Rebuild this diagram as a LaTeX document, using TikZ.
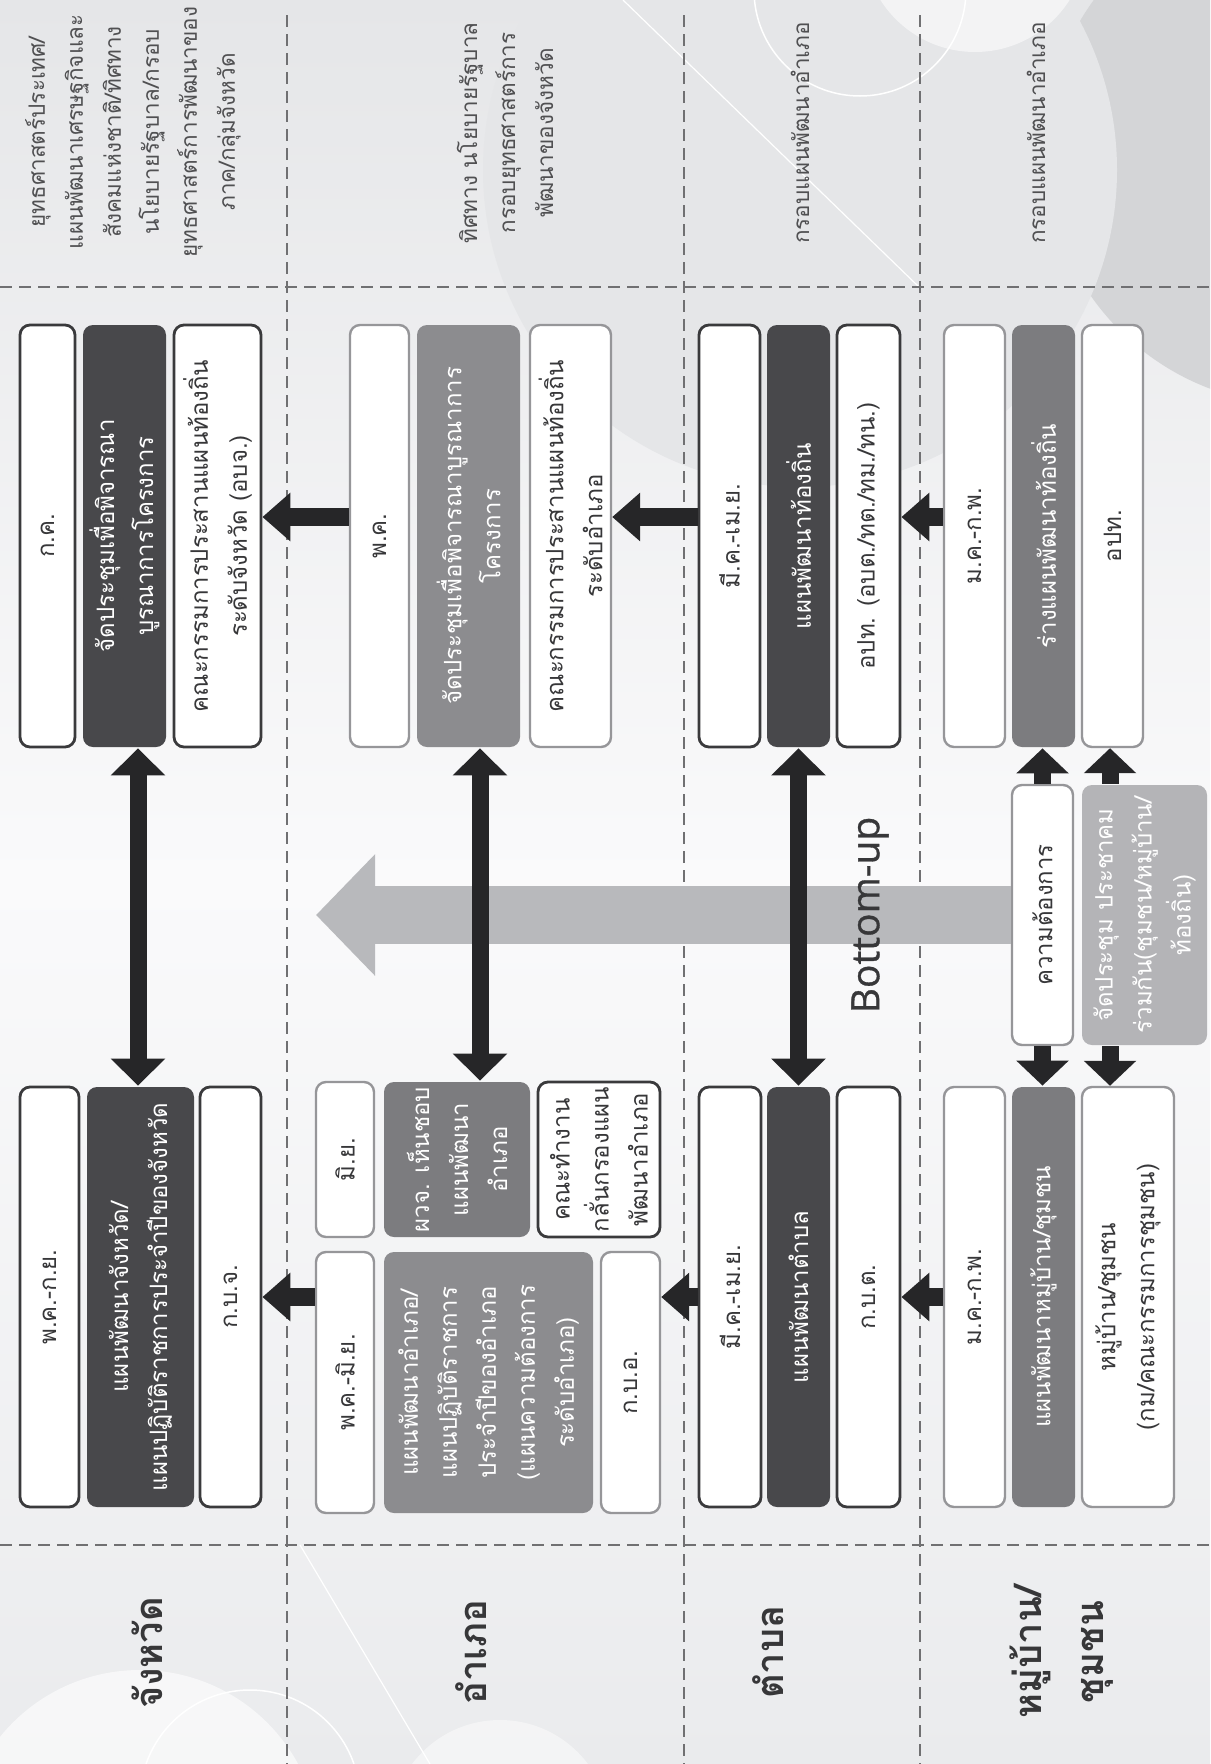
\documentclass[tikz,border=0pt]{standalone}
\usepackage{fontspec}
\usepackage{tikz}
\usetikzlibrary{arrows.meta,calc}
\newfontfamily\thai[Script=Thai]{Loma}
\newfontfamily\latinsans[FakeBold=0.8]{Open Sans}

\definecolor{bgtop}{RGB}{229,230,232}
\definecolor{bgmid}{RGB}{250,250,251}
\definecolor{bgbot}{RGB}{234,235,237}
\definecolor{bgdeep}{RGB}{212,213,215}
\definecolor{darkfill}{RGB}{72,72,75}
\definecolor{midfill}{RGB}{140,140,143}
\definecolor{deepfill}{RGB}{124,124,127}
\definecolor{softfill}{RGB}{180,180,183}
\definecolor{darkline}{RGB}{58,58,60}
\definecolor{softline}{RGB}{150,150,153}
\definecolor{arrowblack}{RGB}{38,38,40}
\definecolor{bigarrowgray}{RGB}{184,185,188}
\definecolor{sepgray}{RGB}{112,112,114}
\definecolor{textgray}{RGB}{55,55,57}
\definecolor{stripgray}{RGB}{80,80,82}

\begin{document}
\begin{tikzpicture}[x=1pt,y=-1pt,
    every node/.style={font=\thai\fontsize{24}{39}\selectfont,text=textgray},
    box/.style={rotate=90,rounded corners=10pt,align=center,inner sep=3pt,line width=2.8pt},
    toprow/.style={minimum width=422pt},
    botrow/.style={minimum width=420pt},
    whitebox/.style={box,draw=darkline,fill=white},
    palebox/.style={box,draw=softline,fill=white,line width=2.4pt},
    darkbox/.style={box,fill=darkfill,text=white},
    graybox/.style={box,fill=midfill,text=white},
    deepbox/.style={box,fill=deepfill,text=white},
    softbox/.style={box,fill=softfill,text=white},
    striptext/.style={rotate=90,align=center,text=stripgray,font=\thai\fontsize{22.5}{38}\selectfont},
    levellabel/.style={rotate=90,align=center,text=textgray,font=\thai\bfseries\fontsize{38}{62}\selectfont},
    sepline/.style={draw=sepgray,line width=2.6pt,dash pattern=on 12pt off 7pt},
    flowarrow/.style={draw=arrowblack,line width=18pt,-{Triangle[width=47pt,length=28pt]}},
    linkarrow/.style={draw=arrowblack,line width=17pt,{Triangle[width=53pt,length=27pt]}-{Triangle[width=53pt,length=27pt]}},
    stubarrow/.style={draw=arrowblack,line width=17pt,-{Triangle[width=51pt,length=25pt]}},
    bigarrow/.style={draw=bigarrowgray,line width=58pt,-{Triangle[width=118pt,length=59pt]}}]

    % Page background
    \useasboundingbox (0,0) rectangle (1210,1764);
    \shade[top color=bgtop,bottom color=bgmid] (0,0) rectangle (1210,880);
    \shade[top color=bgmid,bottom color=bgbot] (0,880) rectangle (1210,1764);
    \begin{scope}
        \clip (0,0) rectangle (1210,1764);
        \fill[bgdeep] (1300,150) circle (255);
        \fill[bgtop] (800,170) circle (317);
        \fill[white,opacity=0.55] (975,-60) circle (112);
        \draw[white,line width=1.5pt] (860,-10) circle (106);
        \draw[white,line width=1.2pt] (623,0) -- (919,287);
        \fill[white,opacity=0.6] (140,1850) circle (180);
        \fill[white,opacity=0.45] (500,1830) circle (110);
        \draw[white,line width=1.5pt] (250,1800) circle (110);
        \draw[white,line width=1.2pt] (300,1545) -- (430,1764);
    \end{scope}

    % Lines between the levels
    \draw[sepline] (0,287) -- (1210,287);
    \draw[sepline] (0,1545) -- (1210,1545);
    \foreach \sx in {287,684,920}
        \draw[sepline] (\sx,15) -- (\sx,1764);

    % Frames of each level (top strip)
    \node[striptext] (frame1) at (133,132) {ยุทธศาสตร์ประเทศ/\\แผนพัฒนาเศรษฐกิจและ\\สังคมแห่งชาติ/ทิศทาง\\นโยบายรัฐบาล/กรอบ\\ยุทธศาสตร์การพัฒนาของ\\ภาค/กลุ่มจังหวัด};
    \node[striptext] (frame2) at (505,133) {ทิศทาง นโยบายรัฐบาล\\กรอบยุทธศาสตร์การ\\พัฒนาของจังหวัด};
    \node[striptext] (frame3) at (800,133) {กรอบแผนพัฒนาอำเภอ};
    \node[striptext] (frame4) at (1036,133) {กรอบแผนพัฒนาอำเภอ};

    % Upper row of boxes
    \node[whitebox,toprow,minimum height=55pt] (c1t1) at (47.5,536) {ก.ค.};
    \node[darkbox,toprow,minimum height=83pt] (c1t2) at (124.5,536) {จัดประชุมเพื่อพิจารณา\\บูรณาการโครงการ};
    \node[whitebox,toprow,minimum height=87pt] (c1t3) at (217.5,536) {คณะกรรมการประสานแผนท้องถิ่น\\ระดับจังหวัด (อบจ.)};

    \node[palebox,toprow,minimum height=59pt] (c2t1) at (379.5,536) {พ.ค.};
    \node[graybox,toprow,minimum height=103pt] (c2t2) at (468.5,536) {จัดประชุมเพื่อพิจารณาบูรณาการ\\โครงการ};
    \node[palebox,toprow,minimum height=81pt] (c2t3) at (570.5,536) {คณะกรรมการประสานแผนท้องถิ่น\\ระดับอำเภอ};

    \node[whitebox,toprow,minimum height=61pt] (c3t1) at (729.5,536) {มี.ค.-เม.ย.};
    \node[darkbox,toprow,minimum height=63pt] (c3t2) at (798.5,536) {แผนพัฒนาท้องถิ่น};
    \node[whitebox,toprow,minimum height=63pt] (c3t3) at (868.5,536) {อปท. (อบต./ทต./ทม./ทน.)};

    \node[palebox,toprow,minimum height=61pt] (c4t1) at (974.5,536) {ม.ค.-ก.พ.};
    \node[deepbox,toprow,minimum height=63pt] (c4t2) at (1043.5,536) {ร่างแผนพัฒนาท้องถิ่น};
    \node[palebox,toprow,minimum height=61pt] (c4t3) at (1112.5,536) {อปท.};

    % Village needs and meeting
    \node[palebox,minimum width=260pt,minimum height=61pt] (need) at (1042.5,915) {ความต้องการ};
    \node[softbox,minimum width=260pt,minimum height=125pt] (meet) at (1144.5,915) {จัดประชุม ประชาคม\\ร่วมกัน(ชุมชน/หมู่บ้าน/\\ท้องถิ่น)};

    % Lower row of boxes
    \node[whitebox,botrow,minimum height=59pt] (c1b1) at (49.5,1297) {พ.ค.-ก.ย.};
    \node[darkbox,botrow,minimum height=107pt] (c1b2) at (140.5,1297) {แผนพัฒนาจังหวัด/\\แผนปฏิบัติราชการประจำปีของจังหวัด};
    \node[whitebox,botrow,minimum height=61pt] (c1b3) at (230.5,1297) {ก.บ.จ.};

    \node[palebox,minimum width=155pt,minimum height=58pt] (c2u1) at (345,1159.5) {มิ.ย.};
    \node[deepbox,minimum width=155pt,minimum height=146pt] (c2u2) at (457,1159.5) {ผวจ. เห็นชอบ\\แผนพัฒนา\\อำเภอ};
    \node[whitebox,minimum width=155pt,minimum height=122pt] (c2u3) at (599,1159.5) {คณะทำงาน\\กลั่นกรองแผน\\พัฒนาอำเภอ};
    \node[palebox,minimum width=261pt,minimum height=58pt] (c2l1) at (345,1382.5) {พ.ค.-มิ.ย.};
    \node[graybox,minimum width=261pt,minimum height=209pt] (c2l2) at (488.5,1382.5) {แผนพัฒนาอำเภอ/\\แผนปฏิบัติราชการ\\ประจำปีของอำเภอ\\(แผนความต้องการ\\ระดับอำเภอ)};
    \node[palebox,minimum width=261pt,minimum height=59pt] (c2l3) at (630.5,1382.5) {ก.บ.อ.};

    \node[whitebox,botrow,minimum height=62pt] (c3b1) at (730,1297) {มี.ค.-เม.ย.};
    \node[darkbox,botrow,minimum height=63pt] (c3b2) at (798.5,1297) {แผนพัฒนาตำบล};
    \node[whitebox,botrow,minimum height=63pt] (c3b3) at (868.5,1297) {ก.บ.ต.};

    \node[palebox,botrow,minimum height=61pt] (c4b1) at (974.5,1297) {ม.ค.-ก.พ.};
    \node[deepbox,botrow,minimum height=63pt] (c4b2) at (1043.5,1297) {แผนพัฒนาหมู่บ้าน/ชุมชน};
    \node[palebox,botrow,minimum height=92pt] (c4b3) at (1128,1297) {หมู่บ้าน/ชุมชน\\(กม/คณะกรรมการชุมชน)};

    % Level names (bottom strip)
    \node[levellabel] (lvl1) at (147,1653) {จังหวัด};
    \node[levellabel] (lvl2) at (471,1652) {อำเภอ};
    \node[levellabel] (lvl3) at (768,1652) {ตำบล};
    \node[levellabel] (lvl4) at (1062,1652) {หมู่บ้าน/\\ชุมชน};

    % Bottom-up arrow
    \coordinate (uptip) at (316,915);
    \draw[bigarrow] (need.north) -- (uptip);

    % Rows where the plans are passed on
    \coordinate (rowt) at (0,517);
    \coordinate (rowb) at (0,1297);
    \draw[flowarrow] (c2t1.north |- rowt) -- (c1t3.south |- rowt);
    \draw[flowarrow] (c3t1.north |- rowt) -- (c2t3.south |- rowt);
    \draw[flowarrow] (c4t1.north |- rowt) -- (c3t3.south |- rowt);
    \draw[flowarrow] (c2l1.north |- rowb) -- (c1b3.south |- rowb);
    \draw[flowarrow] (c3b1.north |- rowb) -- (c2l3.south |- rowb);
    \draw[flowarrow] (c4b1.north |- rowb) -- (c3b3.south |- rowb);

    % Links between upper and lower rows
    \coordinate (c1ax) at (138,0);
    \coordinate (c2ax) at (480,0);
    \coordinate (c4ax) at (1110,0);
    \draw[linkarrow] (c1ax |- c1t2.west) -- (c1ax |- c1b2.east);
    \draw[linkarrow] (c2ax |- c2t2.west) -- (c2ax |- c2u2.east);
    \draw[linkarrow] (c3t2.west) -- (c3b2.east);
    \draw[stubarrow] (need.east) -- (need.east |- c4t2.west);
    \draw[stubarrow] (need.west) -- (need.west |- c4b2.east);
    \draw[stubarrow] (c4ax |- meet.east) -- (c4ax |- c4t3.west);
    \draw[stubarrow] (c4ax |- meet.west) -- (c4ax |- c4b3.east);

    \node[rotate=90,font=\latinsans\fontsize{39}{44}\selectfont,text=textgray] (bup) at (870,915) {Bottom-up};

\end{tikzpicture}
\end{document}
